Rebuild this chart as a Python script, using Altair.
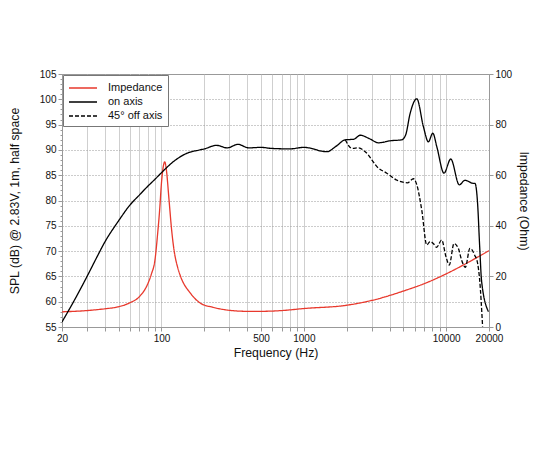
import altair as alt
import pandas as pd

# ---- data ----
on_freq = [20, 25, 30, 35, 40, 50, 60, 70, 80, 90, 100, 124, 150, 186, 200, 243, 290, 344, 410, 500, 590, 800, 1000, 1200, 1306, 1455,
           1700, 1956, 2238, 2490, 2900, 3346, 4040, 4880, 5200, 5582, 6219, 6920, 7500, 8060, 8600, 9660, 10770,
           12370, 13560, 15500, 15940, 16630, 17200, 17750, 19840]
on_spl = [56.0, 60.8, 65.0, 68.7, 71.8, 76.0, 79.1, 81.1, 82.8, 84.2, 85.5, 87.9, 89.3, 90.0, 90.2, 90.9, 90.4, 91.1, 90.4, 90.5, 90.3, 90.2, 90.5, 90.1, 89.8, 89.65,
          90.8, 92.0, 92.1, 92.9, 92.2, 91.4, 91.8, 92.0, 93.0, 97.2, 100.1, 94.6, 91.6, 93.3, 90.6, 85.4, 88.2,
          83.1, 84.0, 83.4, 83.4, 79.4, 70.9, 64.0, 58.0]

off_freq = [1956, 2180, 2430, 2700, 3346, 3830, 4480, 5350, 5890, 6220, 6740, 7310, 7700, 8120, 8570, 9300, 9970, 10520,
            11350, 12170, 12850, 13640, 14690, 15870, 16630, 17200, 18030]
off_spl = [92.0, 90.3, 90.4, 89.65, 86.4, 85.4, 84.05, 83.5, 84.3, 83.1, 78.1, 71.2, 71.9, 71.5, 70.75, 72.2, 68.9, 67.25,
           71.5, 70.55, 68.2, 66.8, 70.55, 69.2, 67.6, 64.3, 55.1]

imp_freq = [20, 30, 40, 50, 60, 70, 80, 85, 90, 94, 97, 100, 103, 105.4, 108, 113, 118, 122.5, 130, 136.4, 160, 188, 230, 300, 400,
            500, 700, 1000, 2000, 3000, 5000, 7500, 10000, 15000, 20000]
imp_ohm = [6.0, 6.5, 7.2, 8.0, 9.6, 12.0, 17.0, 21.0, 26.5, 37.0, 46.0, 57.0, 63.5, 65.3, 62.5, 50.2, 38.0, 30.4, 23.5, 19.9, 13.3, 9.4, 7.8, 6.6, 6.2,
           6.2, 6.5, 7.3, 8.6, 10.5, 14.2, 17.8, 21.0, 26.2, 30.2]

series_names = ["Impedance", "on axis", "45° off axis"]
series_colors = ["#e8392d", "#000000", "#000000"]
series_dash = [[1, 0], [1, 0], [4, 2]]

x_grid = [20, 30, 40, 50, 60, 70, 80, 90, 100, 200, 300, 400, 500, 600, 700, 800, 900,
          1000, 2000, 3000, 4000, 5000, 6000, 7000, 8000, 9000, 10000, 20000]
x_labels = [20, 100, 500, 1000, 10000, 20000]
spl_ticks = list(range(55, 106))          # 1 dB minor ticks, labelled every 5 dB
imp_ticks = [0, 20, 40, 60, 80, 100]

spl_df = pd.concat([
    pd.DataFrame({"freq": on_freq, "val": on_spl, "series": "on axis", "order": range(len(on_freq))}),
    pd.DataFrame({"freq": off_freq, "val": off_spl, "series": "45° off axis", "order": range(len(off_freq))}),
])
imp_df = pd.DataFrame({"freq": imp_freq, "val": imp_ohm, "series": "Impedance", "order": range(len(imp_freq))})

FONT = "Liberation Sans"
label_test = " || ".join(f"datum.value == {v}" for v in x_labels)
major = "datum.value % 5 === 0"

x_enc = alt.X("freq:Q", scale=alt.Scale(type="log", domain=[20, 20000], nice=False),
              axis=alt.Axis(values=x_grid, labelExpr=f"({label_test}) ? datum.value : ''",
                            title="Frequency (Hz)", grid=True, gridColor="#cfcfcf", gridWidth=1,
                            tickSize=4, labelPadding=2, titlePadding=3, labelFlush=False))

color_enc = alt.Color("series:N", scale=alt.Scale(domain=series_names, range=series_colors),
                      legend=alt.Legend(title=None, orient="top-left", offset=1, strokeColor="#777",
                                        fillColor="white", padding=5, symbolType="M-1,0L3,0",
                                        symbolSize=196, symbolStrokeWidth=1.4, labelFontSize=11,
                                        labelFont=FONT, rowPadding=1, labelOffset=24, cornerRadius=0,
                                        labelColor="#111"))
dash_enc = alt.StrokeDash("series:N", scale=alt.Scale(domain=series_names, range=series_dash), legend=None)

spl = alt.Chart(spl_df).mark_line(strokeWidth=1.3, interpolate="monotone", clip=True).encode(
    x=x_enc,
    y=alt.Y("val:Q", scale=alt.Scale(domain=[55, 105], nice=False, zero=False),
            axis=alt.Axis(values=spl_ticks, labelExpr=f"({major}) ? datum.value : ''",
                          title="SPL (dB) @ 2.83V, 1m, half space", grid=True,
                          gridDash=[1, 2], gridColor="#999",
                          gridOpacity={"condition": {"test": major, "value": 1}, "value": 0},
                          tickSize={"condition": {"test": major, "value": 4}, "value": 2},
                          labelPadding=2, titlePadding=18)),
    color=color_enc,
    strokeDash=dash_enc,
    detail="series:N",
    order="order:Q",
)

imp = alt.Chart(imp_df).mark_line(strokeWidth=1.3, interpolate="monotone", clip=True).encode(
    x=alt.X("freq:Q", scale=alt.Scale(type="log", domain=[20, 20000], nice=False)),
    y=alt.Y("val:Q", scale=alt.Scale(domain=[0, 100], nice=False),
            axis=alt.Axis(orient="right", values=imp_ticks, title="Impedance (Ohm)", grid=False,
                          tickSize=4, labelPadding=2, titlePadding=5)),
    color=color_enc,
    strokeDash=dash_enc,
    order="order:Q",
)

chart = alt.layer(imp, spl).resolve_scale(y="independent").properties(
    width=427, height=253, padding={"left": 0, "top": 61, "right": 5, "bottom": 5}
).configure_axis(
    labelFont=FONT, titleFont=FONT, labelFontSize=10, titleFontSize=12.3, titleFontWeight="normal",
    labelColor="#111", titleColor="#111", domainColor="#999", tickColor="#999"
).configure_view(stroke="#999", strokeWidth=1)

chart.save("out.html", embed_options={"renderer": "svg", "actions": False})
